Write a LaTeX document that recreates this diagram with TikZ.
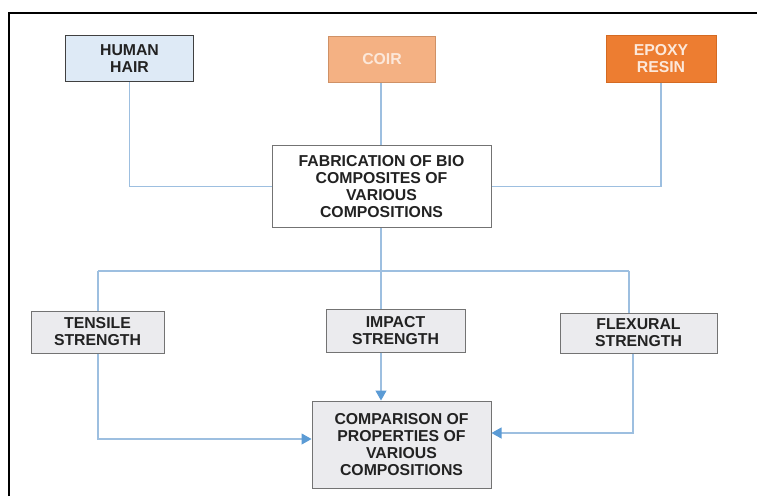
\documentclass[tikz,border=0pt]{standalone}
\usepackage{fontspec}
\setmainfont{Liberation Sans}
\usetikzlibrary{arrows.meta}
\definecolor{hairfill}{HTML}{DEEAF6}
\definecolor{coirfill}{HTML}{F4B183}
\definecolor{coirline}{HTML}{CF9166}
\definecolor{coirtext}{HTML}{FCE8DA}
\definecolor{epoxyfill}{HTML}{ED7D31}
\definecolor{epoxyline}{HTML}{D46A22}
\definecolor{graybox}{HTML}{EBEBEE}
\definecolor{conn}{HTML}{9DBFE0}
\definecolor{tipc}{HTML}{5B9BD5}
\definecolor{txt}{HTML}{222222}
\tikzset{
  box/.style={draw=gray!90!black, line width=1pt, align=center, inner sep=0pt,
    font=\fontsize{15.8}{17}\selectfont\bfseries, text=txt},
  link/.style={draw=conn, line width=1.1pt},
  arr/.style={link, -{Triangle[length=10pt,width=11pt,fill=tipc,color=tipc]}},
}
\begin{document}
\begin{tikzpicture}[x=1pt,y=-1pt]
\useasboundingbox (0,0) rectangle (757,496);
\fill[white] (0,0) rectangle (757,496);
\draw[line width=2.6pt, black] (9,496) -- (9,13) -- (757,13);

\node[box, fill=hairfill, draw=black!75, minimum width=128pt, minimum height=46pt] (hair) at (129.5,58.5) {HUMAN\\HAIR};
\node[box, fill=coirfill, draw=coirline, text=coirtext, minimum width=107pt, minimum height=46pt] (coir) at (382,59) {COIR};
\node[box, fill=epoxyfill, draw=epoxyline, text=coirtext, minimum width=110pt, minimum height=47pt] (epoxy) at (661,58.5) {EPOXY\\RESIN};
\node[box, fill=white, minimum width=219pt, minimum height=82pt] (fab) at (381.5,186.5) {FABRICATION OF BIO\\COMPOSITES OF\\VARIOUS\\COMPOSITIONS};
\node[box, fill=graybox, minimum width=133pt, minimum height=42pt] (tensile) at (97.5,332) {TENSILE\\STRENGTH};
\node[box, fill=graybox, minimum width=139pt, minimum height=43pt] (impact) at (395.5,330.5) {IMPACT\\STRENGTH};
\node[box, fill=graybox, minimum width=157pt, minimum height=40pt] (flex) at (638.5,333) {FLEXURAL\\STRENGTH};
\node[box, fill=graybox, minimum width=179pt, minimum height=87pt] (comp) at (401.5,444.5) {COMPARISON OF\\PROPERTIES OF\\VARIOUS\\COMPOSITIONS};

\coordinate (bl) at (98,271);
\coordinate (br) at (629,271);
\coordinate (mid) at (381,271);
\coordinate (tl) at (98,439);
\coordinate (fr) at (633,433);

\draw[link] (hair.south) |- (fab.west);
\draw[link] (fab.north -| mid) -- (coir.south -| mid);
\draw[link] (epoxy.south) |- (fab.east);
\draw[link] (fab.south -| mid) -- (impact.north -| mid);
\draw[link] (bl) -- (br);
\draw[link] (bl) -- (bl |- tensile.north);
\draw[link] (br) -- (br |- flex.north);
\draw[arr] (impact.south -| mid) -- (comp.north -| mid);
\draw[arr] (tensile.south -| tl) -- (tl) -- (tl -| comp.west);
\draw[arr] (flex.south -| fr) -- (fr) -- (fr -| comp.east);
\end{tikzpicture}
\end{document}
